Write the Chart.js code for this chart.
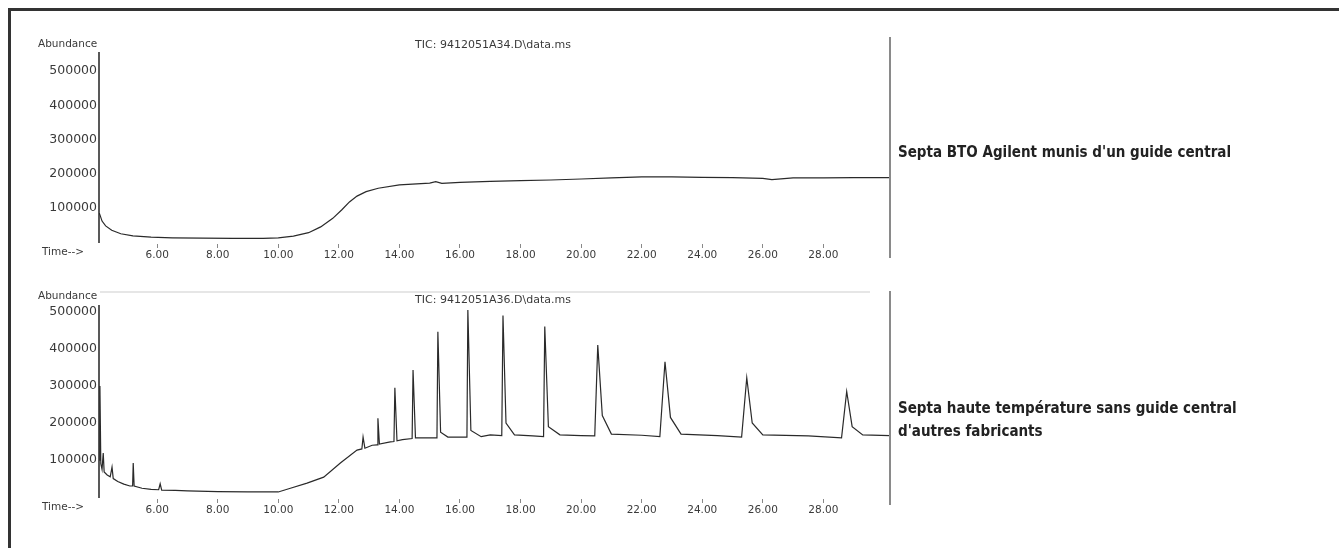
<!DOCTYPE html>
<html lang="fr">
<head>
  <meta charset="UTF-8">
  <title>Septa - TIC</title>
  <script src="https://cdn.jsdelivr.net/npm/chart.js"></script>
  <style>
    body { margin: 0; background: #fff; width: 1339px; height: 548px; overflow: hidden; position: relative; }
    #frame { position: absolute; left: 8px; top: 8px; width: 1400px; height: 600px; border: 3px solid #333; box-sizing: border-box; }
    canvas { position: absolute; left: 0; }
    #c1 { top: 0; }
    #c2 { top: 270px; }
    .note { position: absolute; left: 898px; font-family: "Liberation Sans Narrow", "DejaVu Sans Condensed", "Arial Narrow", sans-serif; font-weight: bold; font-size: 15px; color: #222; line-height: 23px; white-space: nowrap; }
  </style>
</head>
<body>
  <div id="frame"></div>
  <canvas id="c1" width="900" height="270"></canvas>
  <canvas id="c2" width="900" height="270"></canvas>
  <div class="note" style="top: 141px;">Septa BTO Agilent munis d'un guide central</div>
  <div class="note" style="top: 397px;">Septa haute température sans guide central<br>d'autres fabricants</div>

  <script>
    // axe du temps (min) et graduations
    const timeTicks = [6, 8, 10, 12, 14, 16, 18, 20, 22, 24, 26, 28];
    const abundTicks = [100000, 200000, 300000, 400000, 500000];

    // septa BTO Agilent (9412051A34.D)
    const timesBTO = [4.09, 4.12, 4.18, 4.3, 4.5, 4.8, 5.2, 5.8, 6.5, 7.5, 8.5, 9.5, 10.0, 10.5, 11.0, 11.4, 11.8,
      12.1, 12.35, 12.6, 12.9, 13.3, 14.0, 15.0, 15.2, 15.4, 16.0, 17.0, 18.0, 19.0, 20.0, 21.0, 22.0, 23.0,
      24.0, 25.0, 26.0, 26.3, 27.0, 28.0, 29.0, 30.2];
    const abundBTO = [85000, 78000, 62000, 48000, 35000, 25000, 19000, 15000, 13000, 12000, 11500, 11500, 13000,
      18000, 28000, 45000, 70000, 95000, 118000, 135000, 148000, 158000, 168000, 173000, 177000, 172000, 175000,
      178000, 180000, 182000, 185000, 188000, 191000, 191000, 190000, 189000, 187000, 183000, 188000, 188000,
      189000, 189000];

    // septa haute température (9412051A36.D)
    const timesHT = [4.09, 4.11, 4.14, 4.18, 4.22, 4.25, 4.35, 4.45, 4.51, 4.55, 4.7, 4.9, 5.1, 5.19, 5.21, 5.24,
      5.5, 5.8, 6.05, 6.1, 6.15, 6.6, 7.0, 8.0, 9.0, 10.0, 10.4, 10.95, 11.5, 12.05, 12.6, 12.76, 12.8, 12.86,
      13.1, 13.26, 13.29, 13.34, 13.7, 13.82, 13.85, 13.92, 14.1, 14.42, 14.45, 14.53, 14.8, 15.24, 15.27, 15.36,
      15.6, 16.23, 16.26, 16.36, 16.7, 17.0, 17.38, 17.42, 17.52, 17.8, 18.4, 18.76, 18.8, 18.92, 19.3, 20.0,
      20.45, 20.55, 20.7, 21.0, 22.0, 22.6, 22.77, 22.95, 23.3, 24.5, 25.3, 25.47, 25.65, 26.0, 27.5, 28.6, 28.77,
      28.95, 29.3, 30.2];
    const abundHT = [100000, 300000, 90000, 75000, 119000, 68000, 60000, 55000, 81000, 50000, 42000, 35000,
      30000, 30000, 92000, 30000, 24000, 21000, 20000, 36000, 19000, 18000, 17000, 15000, 14000, 14000, 24000,
      38000, 54000, 92000, 127000, 130000, 162000, 132000, 140000, 141000, 213000, 143000, 149000, 150000,
      295000, 152000, 155000, 158000, 343000, 160000, 160000, 160000, 446000, 175000, 162000, 162000, 505000,
      180000, 163000, 168000, 166000, 490000, 200000, 168000, 165000, 163000, 460000, 190000, 168000, 166000,
      165000, 410000, 220000, 170000, 167000, 163000, 365000, 215000, 170000, 166000, 162000, 322000, 200000,
      168000, 165000, 160000, 285000, 190000, 168000, 166000];

    const ink = '#2a2a2a';

    const chromDecor = {
      id: 'chromDecor',
      afterDraw(chart, args, o) {
        const { ctx, chartArea: a } = chart;
        ctx.save();
        if (o.topRule) {
          ctx.strokeStyle = '#e6e6e6';
          ctx.lineWidth = 2;
          ctx.beginPath();
          ctx.moveTo(a.left + 1, a.top + 1);
          ctx.lineTo(a.right - 20, a.top + 1);
          ctx.stroke();
        }
        // axe gauche
        ctx.strokeStyle = '#222';
        ctx.lineWidth = 1.5;
        ctx.beginPath();
        ctx.moveTo(a.left, a.top + o.leftGap);
        ctx.lineTo(a.left, a.bottom - 1);
        ctx.stroke();
        // axe droit
        ctx.strokeStyle = '#8a8a8a';
        ctx.lineWidth = 2;
        ctx.beginPath();
        ctx.moveTo(a.right, a.top);
        ctx.lineTo(a.right, a.bottom + o.rightExtra);
        ctx.stroke();
        ctx.fillStyle = '#3a3a3a';
        ctx.font = '10.5px "DejaVu Sans", sans-serif';
        ctx.textBaseline = 'middle';
        ctx.textAlign = 'left';
        ctx.fillText('Abundance', 38, o.abundY);
        ctx.fillText('Time-->', 42, a.bottom + 8);
        ctx.font = '11px "DejaVu Sans", sans-serif';
        ctx.textAlign = 'center';
        ctx.fillText(o.title, o.titleX, o.titleY);
        ctx.restore();
      }
    };

    function makeChart(id, times, values, cfg) {
      const points = times.map((t, i) => ({ x: t, y: values[i] }));
      return new Chart(document.getElementById(id), {
        type: 'line',
        data: {
          datasets: [{
            data: points,
            borderColor: ink,
            borderWidth: 1.2,
            pointRadius: 0,
            tension: 0,
            fill: false
          }]
        },
        options: {
          responsive: false,
          animation: false,
          events: [],
          layout: { padding: { left: 0, right: 10, top: cfg.padTop, bottom: 0 } },
          plugins: {
            legend: { display: false },
            tooltip: { enabled: false },
            chromDecor: cfg.decor
          },
          scales: {
            x: {
              type: 'linear',
              min: 4.08,
              max: 30.2,
              afterBuildTicks: s => { s.ticks = timeTicks.map(v => ({ value: v })); },
              afterFit: s => { s.height = cfg.xHeight; },
              ticks: {
                callback: v => v.toFixed(2),
                color: '#3a3a3a',
                font: { family: 'DejaVu Sans', size: 10.5 },
                padding: 1,
                maxRotation: 0,
                autoSkip: false
              },
              grid: { display: true, drawOnChartArea: false, drawTicks: true, tickLength: 4, color: '#888' },
              border: { display: false }
            },
            y: {
              min: cfg.yMin,
              max: cfg.yMax,
              afterBuildTicks: s => { s.ticks = abundTicks.map(v => ({ value: v })); },
              afterFit: s => { s.width = 99; },
              ticks: {
                callback: v => String(v),
                color: '#3a3a3a',
                font: { family: 'DejaVu Sans', size: 12.5 },
                padding: 2
              },
              grid: { display: false, drawTicks: false },
              border: { display: false }
            }
          }
        },
        plugins: [chromDecor]
      });
    }

    makeChart('c1', timesBTO, abundBTO, {
      padTop: 37, xHeight: 26, yMin: -5000, yMax: 600000,
      decor: { title: 'TIC: 9412051A34.D\\data.ms', titleX: 493, titleY: 45, abundY: 44, rightExtra: 14, leftGap: 15, topRule: false }
    });

    makeChart('c2', timesHT, abundHT, {
      padTop: 21, xHeight: 41, yMin: -5000, yMax: 556000,
      decor: { title: 'TIC: 9412051A36.D\\data.ms', titleX: 493, titleY: 30, abundY: 26, rightExtra: 6, leftGap: 14, topRule: true }
    });
  </script>
</body>
</html>
